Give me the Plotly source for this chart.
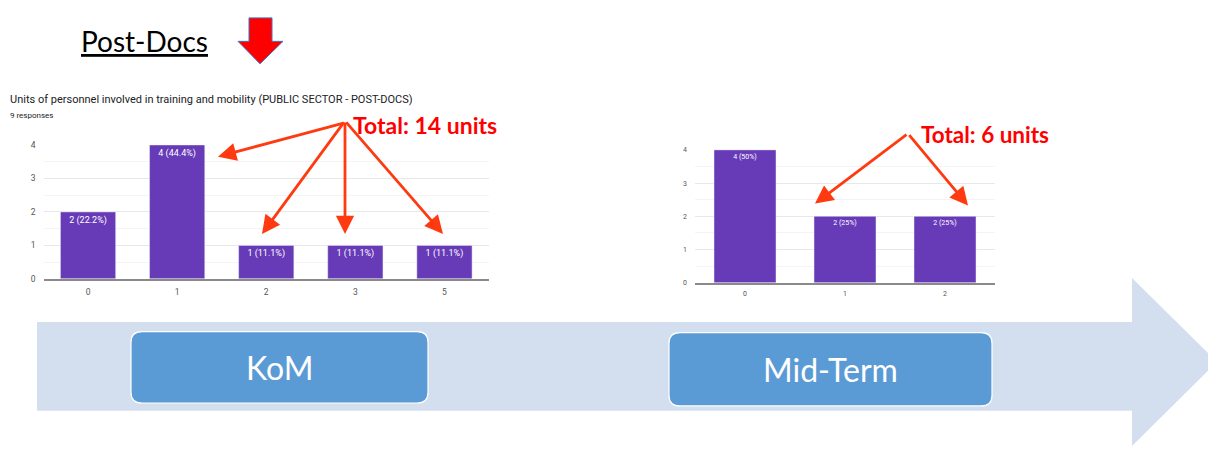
import plotly.graph_objects as go

# ---------------- data ----------------
kom_categories = ["0", "1", "2", "3", "5"]
kom_counts = [2, 4, 1, 1, 1]
mid_categories = ["0", "1", "2"]
mid_counts = [4, 2, 2]
y_ticks = [0, 1, 2, 3, 4]
chart_title = "Units of personnel involved in training and mobility (PUBLIC SECTOR - POST-DOCS)"
phase_labels = ["KoM", "Mid-Term"]

# the page body has an 8px margin; work in window pixels and convert
OFF = 8
W, H = 1216 - OFF, 452 - OFF
def X(px):
    return (px - OFF) / W
def Y(py):
    return 1 - (py - OFF) / H

kom_n = sum(kom_counts)
mid_n = sum(mid_counts)
kom_text = [f"{v} ({v / kom_n * 100:.1f}%)" for v in kom_counts]
mid_text = [f"{v} ({v / mid_n * 100:.0f}%)" for v in mid_counts]
kom_total = sum(int(c) * v for c, v in zip(kom_categories, kom_counts))
mid_total = sum(int(c) * v for c, v in zip(mid_categories, mid_counts))

PURPLE = "#673ab7"
fig = go.Figure()
fig.add_trace(go.Bar(x=kom_categories, y=kom_counts, text=kom_text, marker_color=PURPLE,
                     textposition="inside", insidetextanchor="end", textangle=0,
                     textfont=dict(color="white", size=9, family="Roboto"),
                     xaxis="x", yaxis="y", hoverinfo="skip"))
fig.add_trace(go.Bar(x=mid_categories, y=mid_counts, text=mid_text, marker_color=PURPLE,
                     textposition="inside", insidetextanchor="end", textangle=0,
                     textfont=dict(color="white", size=7, family="Roboto"),
                     xaxis="x2", yaxis="y2", hoverinfo="skip"))

def xax(domain, size, standoff):
    return dict(domain=domain, type="category", showgrid=False, showline=True,
                linecolor="#8a8a8a", linewidth=1.5, ticks="", ticklabelstandoff=standoff,
                tickfont=dict(size=size, color="#555", family="Roboto"), fixedrange=True)

def yax(domain, anchor, size):
    return dict(domain=domain, anchor=anchor, range=[0, 4], tickvals=y_ticks,
                showgrid=True, gridcolor="#e8e8e8", gridwidth=1,
                minor=dict(dtick=0.5, showgrid=True, gridcolor="#f4f4f4"),
                zeroline=False, showline=False, ticks="",
                tickfont=dict(size=size, color="#555", family="Roboto"),
                ticklabelstandoff=7, fixedrange=True)

fig.update_layout(
    width=W, height=H, margin=dict(l=0, r=0, t=0, b=0),
    paper_bgcolor="white", plot_bgcolor="white", showlegend=False,
    bargap=0.38,
    xaxis=dict(**xax([X(43.5), X(489)], 8.5, 4), anchor="y"),
    yaxis=yax([Y(280), Y(143)], "x", 8.5),
    xaxis2=dict(**xax([X(695), X(995)], 7, 3), anchor="y2"),
    yaxis2=yax([Y(284), Y(148)], "x2", 7),
)

shapes = []
# big timeline arrow
band = [(37, 324), (1132, 324), (1132, 279), (1217, 365), (1132, 451), (1132, 415), (37, 415)]
path = "M " + " L ".join(f"{X(a)},{Y(b)}" for a, b in band) + " Z"
shapes.append(dict(type="path", xref="paper", yref="paper", path=path,
                   fillcolor="#d3dfef", line=dict(width=0), layer="below"))

def rrect(x0, y0, x1, y1, r):
    pts = [("M", [(x0 + r, y0)]), ("L", [(x1 - r, y0)]), ("Q", [(x1, y0), (x1, y0 + r)]),
           ("L", [(x1, y1 - r)]), ("Q", [(x1, y1), (x1 - r, y1)]), ("L", [(x0 + r, y1)]),
           ("Q", [(x0, y1), (x0, y1 - r)]), ("L", [(x0, y0 + r)]), ("Q", [(x0, y0), (x0 + r, y0)])]
    s = ""
    for cmd, ps in pts:
        s += cmd + " " + " ".join(f"{X(a)},{Y(b)}" for a, b in ps) + " "
    return s + "Z"

boxes = [(131, 334, 428, 407), (669, 335, 992, 410)]
for (x0, y0, x1, y1) in boxes:
    shapes.append(dict(type="path", xref="paper", yref="paper", path=rrect(x0, y0, x1, y1, 11),
                       fillcolor="#5b9bd5", line=dict(color="white", width=1.2)))

# red down arrow next to title
darrow = [(249, 13), (272, 13), (272, 37), (283, 37), (260, 60), (238, 37), (249, 37)]
path = "M " + " L ".join(f"{X(a)},{Y(b)}" for a, b in darrow) + " Z"
shapes.append(dict(type="path", xref="paper", yref="paper", path=path,
                   fillcolor="#ff0000", line=dict(color="#4a6fc0", width=1)))
fig.update_layout(shapes=shapes)

ann = []
ann.append(dict(xref="paper", yref="paper", x=X(79), y=Y(37), xanchor="left", yanchor="middle",
                text="<u>Post-Docs</u>", showarrow=False,
                font=dict(family="Lato", size=28, color="black")))
ann.append(dict(xref="paper", yref="paper", x=X(8), y=Y(97), xanchor="left", yanchor="middle",
                text=chart_title, showarrow=False,
                font=dict(family="Roboto", size=11, color="#202124")))
ann.append(dict(xref="paper", yref="paper", x=X(8), y=Y(113), xanchor="left", yanchor="middle",
                text=f"{kom_n} responses", showarrow=False,
                font=dict(family="Roboto", size=8, color="#202124")))
for (x0, y0, x1, y1), lab in zip(boxes, phase_labels):
    ann.append(dict(xref="paper", yref="paper", x=X((x0 + x1) / 2), y=Y((y0 + y1) / 2),
                    xanchor="center", yanchor="middle", text=lab, showarrow=False,
                    font=dict(family="Lato", size=32, color="white")))
ann.append(dict(xref="paper", yref="paper", x=X(351), y=Y(123), xanchor="left", yanchor="middle",
                text=f"<b>Total: {kom_total} units</b>", showarrow=False,
                font=dict(family="Lato", size=23, color="#ff0000")))
ann.append(dict(xref="paper", yref="paper", x=X(919), y=Y(132), xanchor="left", yanchor="middle",
                text=f"<b>Total: {mid_total} units</b>", showarrow=False,
                font=dict(family="Lato", size=22.5, color="#ff0000")))

arrows = [((345, 121), [(218, 155), (262, 234), (345, 234), (443, 234)]),
          ((908, 133), [(815, 203), (968, 205)])]
for (tx, ty), tips in arrows:
    for (hx, hy) in tips:
        ann.append(dict(xref="paper", yref="paper", x=X(hx), y=Y(hy), ax=tx - hx, ay=ty - hy,
                        axref="pixel", ayref="pixel", text="", showarrow=True,
                        arrowhead=2, arrowsize=1.3, arrowwidth=2.8, arrowcolor="#ff3a10",
                        standoff=0, startstandoff=0))
fig.update_layout(annotations=ann)

fig.write_html("out.html", config={"displayModeBar": False})
